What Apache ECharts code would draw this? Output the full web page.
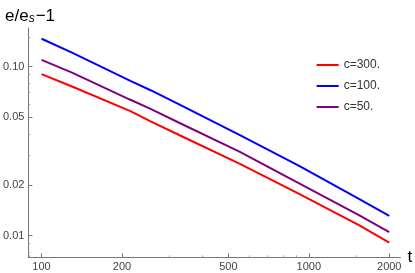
<!DOCTYPE html>
<html>
<head>
<meta charset="utf-8">
<script src="https://cdn.jsdelivr.net/npm/echarts@6/dist/echarts.min.js"></script>
<style>html,body{margin:0;padding:0;background:#fff}#c{width:415px;height:273px}</style>
</head>
<body>
<div id="c"></div>
<script>
const tValues = [100, 130, 215, 257, 330, 550, 920, 1540, 2000];
const c300 = [0.0902, 0.0762, 0.0545, 0.0473, 0.0391, 0.0267, 0.01766, 0.01156, 0.0091];
const c100 = [0.146, 0.121, 0.0823, 0.0722, 0.0593, 0.0394, 0.0259, 0.0165, 0.0131];
const c50 = [0.1096, 0.0921, 0.0636, 0.0560, 0.0462, 0.0314, 0.0204, 0.01324, 0.0105];
const seriesNames = ['c=300.', 'c=100.', 'c=50.'];
const xMajor = [100, 200, 500, 1000, 2000];
const xMinor = [90, 300, 400, 600, 700, 800, 900, 1500];
const yMajor = [0.01, 0.02, 0.05, 0.1];
const yMinor = [0.008, 0.009, 0.03, 0.04, 0.06, 0.07, 0.08, 0.09, 0.15];

const axisColor = '#777';
const labelColor = '#444';
const font = 'Liberation Sans, Arial, sans-serif';

function pairs(vals) { return tValues.map((t, i) => [t, vals[i]]); }

const chart = echarts.init(document.getElementById('c'));
const xBase = { type: 'log', logBase: 10, min: 89.3, max: 2200, gridIndex: 0, position: 'bottom' };
const yBase = { type: 'log', logBase: 10, min: 0.00745, max: 0.169, gridIndex: 0, position: 'left' };
chart.setOption({
  animation: false,
  title: {
    text: '{a|e/e}{b|s}{a|\u22121}',
    left: 0, top: 0,
    textStyle: {
      fontWeight: 'normal',
      rich: {
        a: { fontSize: 17, fontFamily: font, color: '#000', fontWeight: 'normal', verticalAlign: 'bottom' },
        b: { fontSize: 12, fontFamily: font, color: '#000', fontWeight: 'normal', fontStyle: 'italic', padding: [8, 1, 0, 0] }
      }
    }
  },
  grid: { left: 26, right: 13.3, top: 28, bottom: 15.7 },
  legend: {
    orient: 'vertical', right: 30, top: 54, itemWidth: 22, itemHeight: 2, itemGap: 9,
    textStyle: { fontSize: 12, fontFamily: font, color: '#333' },
    data: seriesNames.map(n => ({ name: n, icon: 'rect' }))
  },
  xAxis: [
    Object.assign({}, xBase, {
      name: 't', nameLocation: 'end', nameGap: 4,
      nameTextStyle: { fontSize: 17, fontFamily: font, color: '#000', verticalAlign: 'middle', padding: [0, 0, 2, 0] },
      axisLine: { lineStyle: { color: axisColor, width: 1 } },
      axisTick: { inside: true, length: 4, customValues: xMajor, lineStyle: { color: axisColor } },
      axisLabel: { customValues: xMajor, fontSize: 11, fontFamily: font, color: labelColor, margin: 4,
        formatter: v => String(Math.round(v)) },
      splitLine: { show: false }
    }),
    Object.assign({}, xBase, {
      axisLine: { show: false },
      axisTick: { inside: true, length: 2, customValues: xMinor, lineStyle: { color: '#aaa' } },
      axisLabel: { show: false },
      splitLine: { show: false }
    })
  ],
  yAxis: [
    Object.assign({}, yBase, {
      axisLine: { show: true, lineStyle: { color: axisColor, width: 1 } },
      axisTick: { show: true, inside: true, length: 4, customValues: yMajor, lineStyle: { color: axisColor } },
      axisLabel: { customValues: yMajor, fontSize: 11, fontFamily: font, color: labelColor, margin: 4,
        formatter: v => Number(v).toFixed(2) },
      splitLine: { show: false }
    }),
    Object.assign({}, yBase, {
      axisLine: { show: false },
      axisTick: { show: true, inside: true, length: 2, customValues: yMinor, lineStyle: { color: '#aaa' } },
      axisLabel: { show: false },
      splitLine: { show: false }
    })
  ],
  series: [
    { name: seriesNames[0], type: 'line', data: pairs(c300), showSymbol: false, lineStyle: { color: '#ff0000', width: 2 }, itemStyle: { color: '#ff0000' } },
    { name: seriesNames[1], type: 'line', data: pairs(c100), showSymbol: false, lineStyle: { color: '#0000ff', width: 2 }, itemStyle: { color: '#0000ff' } },
    { name: seriesNames[2], type: 'line', data: pairs(c50), showSymbol: false, lineStyle: { color: '#800080', width: 2 }, itemStyle: { color: '#800080' } }
  ]
});
</script>
</body>
</html>
